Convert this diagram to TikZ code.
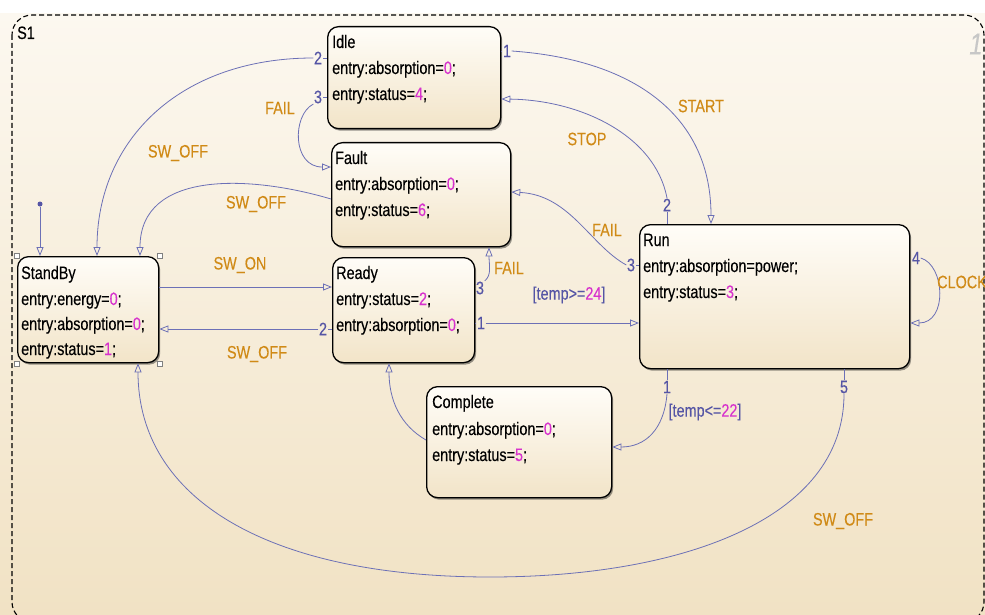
\documentclass[tikz,border=0pt]{standalone}
\usepackage{fontspec}
\setmainfont[FakeStretch=0.8,FakeBold=0.2]{Liberation Sans}
\usetikzlibrary{arrows.meta,shadows}

\definecolor{bgtop}{RGB}{252,248,240}
\definecolor{bgbot}{RGB}{241,226,196}
\definecolor{boxtop}{RGB}{255,253,248}
\definecolor{boxbot}{RGB}{242,228,200}
\definecolor{evc}{RGB}{208,138,22}
\definecolor{trc}{RGB}{85,85,165}
\definecolor{linec}{RGB}{108,112,182}
\definecolor{numc}{RGB}{215,50,205}

\newcommand{\vl}[1]{\textcolor{numc}{#1}}

\begin{document}
\begin{tikzpicture}[x=1pt,y=-1pt,
  st/.style={draw=black, line width=1.3pt, rounded corners=11pt,
    top color=boxtop, bottom color=boxbot,
    drop shadow={shadow xshift=1.5pt, shadow yshift=-2pt, fill=black, opacity=0.4},
    anchor=north west, inner sep=0pt},
  tx/.style={anchor=base west, inner sep=0pt, font=\fontsize{18}{20}\selectfont},
  ev/.style={text=evc, inner sep=0pt, font=\fontsize{18}{20}\selectfont},
  tn/.style={text=trc, inner sep=0.5pt, font=\fontsize{18}{20}\selectfont},
  tr/.style={draw=linec, line width=0.8pt},
  arr/.style={tr, -{Triangle[open, length=9pt, width=7pt, line width=0.8pt]}},
  handle/.style={draw=gray, fill=white, line width=0.5pt, minimum size=5pt, inner sep=0pt},
]
\useasboundingbox (0,0) rectangle (985,615);

% chart background and the dashed outline of S1
\fill[white] (0,0) rectangle (985,615);
\shade[top color=bgtop, bottom color=bgbot] (0,14) rectangle (985,615);
\draw[black, line width=1.1pt, dash pattern=on 5pt off 3pt, rounded corners=20pt]
  (12,15) rectangle (984,622);
\node[anchor=base west, inner sep=0pt, font=\fontsize{18}{20}\selectfont] (s1) at (17,39) {S1};
\node[text=black!22, font=\fontsize{30}{32}\selectfont\itshape, inner sep=0pt] (wm) at (976,44) {1};

% states
\node[st, minimum width=173pt, minimum height=102pt] (idle)  at (327,26)  {};
\node[st, minimum width=179pt, minimum height=104pt] (fault) at (331,142) {};
\node[st, minimum width=141pt, minimum height=106pt] (sb)    at (17,256)  {};
\node[st, minimum width=142pt, minimum height=105pt] (ready) at (332,257) {};
\node[st, minimum width=270pt, minimum height=144pt] (run)   at (639,224) {};
\node[st, minimum width=185pt, minimum height=111pt] (comp)  at (426,386) {};

\foreach \a/\n in {north west/hnw, north east/hne, south west/hsw, south east/hse}
  \node[handle] (\n) at (sb.\a) {};

% state actions
\node[tx] (idle1) at (332,48)  {Idle};
\node[tx] (idle2) at (332,74)  {entry:absorption=\vl{0};};
\node[tx] (idle3) at (332,100) {entry:status=\vl{4};};

\node[tx] (fault1) at (335,164) {Fault};
\node[tx] (fault2) at (335,190) {entry:absorption=\vl{0};};
\node[tx] (fault3) at (335,216) {entry:status=\vl{6};};

\node[tx] (sb1) at (21,279) {StandBy};
\node[tx] (sb2) at (21,305) {entry:energy=\vl{0};};
\node[tx] (sb3) at (21,330) {entry:absorption=\vl{0};};
\node[tx] (sb4) at (21,355) {entry:status=\vl{1};};

\node[tx] (ready1) at (336,279) {Ready};
\node[tx] (ready2) at (336,305) {entry:status=\vl{2};};
\node[tx] (ready3) at (336,331) {entry:absorption=\vl{0};};

\node[tx] (run1) at (643,246) {Run};
\node[tx] (run2) at (643,272) {entry:absorption=power;};
\node[tx] (run3) at (643,298) {entry:status=\vl{3};};

\node[tx] (comp1) at (432,408) {Complete};
\node[tx] (comp2) at (432,435) {entry:absorption=\vl{0};};
\node[tx] (comp3) at (432,461) {entry:status=\vl{5};};

% transition order numbers
\node[tn] (ni2) at (318,58)  {2};
\node[tn] (ni3) at (318,97)  {3};
\node[tn] (ni1) at (507,51)  {1};
\node[tn] (nr2) at (323,329) {2};
\node[tn] (nr3) at (480,288) {3};
\node[tn] (nr1) at (481,323) {1};
\node[tn] (nu2) at (667,205) {2};
\node[tn] (nu3) at (631,265) {3};
\node[tn] (nu4) at (916,258) {4};
\node[tn] (nu1) at (667,387) {1};
\node[tn] (nu5) at (844,387) {5};

% default transition
\node[circle, fill=trc, inner sep=0pt, minimum size=5pt] (init) at (40,204) {};
\draw[arr] (init) -- (sb.north -| init);

% Idle
\draw[tr] (idle.west |- ni2) -- (ni2.east);
\draw[arr] (ni2.west) .. controls (180,58) and (97,140) .. (sb.north -| 97,0);
\draw[tr] (idle.west |- ni3) -- (ni3.east);
\draw[arr] (ni3.south west) .. controls (292,115) and (292,167) .. (fault.west |- 0,167);
\draw[tr] (idle.east |- ni1) -- (ni1.west);
\draw[arr] (ni1.east) .. controls (640,60) and (711,120) .. (run.north -| 711,0);

% Fault
\draw[arr] (fault.west |- 0,199) .. controls (250,175) and (140,170) .. (sb.north -| 140,0);

% StandBy / Ready
\draw[arr] (sb.east |- 0,287) -- (ready.west |- 0,287);
\draw[tr] (ready.west |- nr2) -- (nr2.east);
\draw[arr] (nr2.west) -- (sb.east |- nr2);
\draw[tr] (ready.east |- nr3) -- (nr3.west);
\draw[arr] (nr3.north east) .. controls (492,275) and (489,265) .. (fault.south -| 489,0);
\draw[tr] (ready.east |- nr1) -- (nr1.west);
\draw[arr] (nr1.east) -- (run.west |- nr1);

% Run
\draw[tr] (run.north -| nu2) -- (nu2.south);
\draw[arr] (nu2.north) .. controls (655,135) and (580,100) .. (idle.east |- 0,99);
\draw[tr] (run.west |- nu3) -- (nu3.east);
\draw[arr] (nu3.west) .. controls (590,245) and (570,195) .. (fault.east |- 0,192);
\draw[arr] (nu4.east) .. controls (945,265) and (948,323) .. (run.east |- 0,323);
\draw[tr] (run.south -| nu1) -- (nu1.north);
\draw[arr] (nu1.south) .. controls (664,430) and (645,447) .. (comp.east |- 0,447);
\draw[tr] (run.south -| nu5) -- (nu5.north);
\draw[arr] (nu5.south) .. controls (844,520) and (680,577) .. (490,577)
  .. controls (270,577) and (138,500) .. (sb.south -| 138,0);

% Complete
\draw[arr] (comp.west |- 0,440) .. controls (400,425) and (389,400) .. (ready.south -| 389,0);

% events and guards
\node[ev] (e1) at (178,153) {SW\_OFF};
\node[ev] (e2) at (280,108) {FAIL};
\node[ev] (e3) at (256,204) {SW\_OFF};
\node[ev] (e4) at (240,265) {SW\_ON};
\node[ev] (e5) at (257,354) {SW\_OFF};
\node[ev] (e6) at (509,268) {FAIL};
\node[ev] (e7) at (701,106) {START};
\node[ev] (e8) at (587,139) {STOP};
\node[ev] (e9) at (607,230) {FAIL};
\node[ev, anchor=west] (e10) at (937,282) {CLOCK};
\node[ev] (e11) at (843,521) {SW\_OFF};
\node[tn] (g1) at (569,295) {[temp>=\vl{24}]};
\node[tn] (g2) at (705,412) {[temp<=\vl{22}]};
\end{tikzpicture}
\end{document}
